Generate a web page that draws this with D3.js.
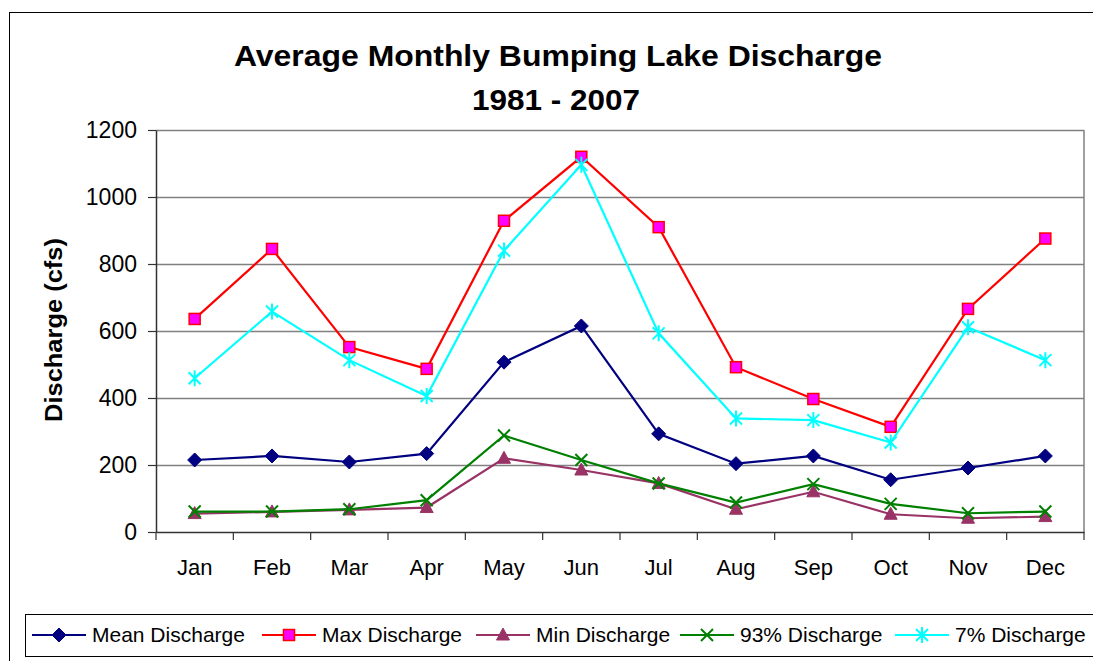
<!DOCTYPE html>
<html>
<head>
<meta charset="utf-8">
<script src="https://cdn.jsdelivr.net/npm/d3@7"></script>
<style>
  body { margin: 0; background: #fff; }
  text { font-family: "Liberation Sans", Arial, sans-serif; }
</style>
</head>
<body>
<div id="chart"></div>
<script>
var months = ["Jan", "Feb", "Mar", "Apr", "May", "Jun", "Jul", "Aug", "Sep", "Oct", "Nov", "Dec"];
var meanDischarge = [215, 227, 209, 234, 507, 615, 293, 204, 227, 156, 191, 227];
var maxDischarge = [636, 845, 552, 487, 929, 1120, 910, 492, 397, 314, 666, 876];
var minDischarge = [55, 60, 66, 73, 220, 185, 145, 68, 120, 53, 41, 46];
var p93Discharge = [61, 61, 68, 95, 288, 215, 145, 88, 143, 84, 56, 61];
var p7Discharge = [459, 658, 513, 406, 840, 1096, 593, 339, 334, 267, 611, 513];
var yTicks = [0, 200, 400, 600, 800, 1000, 1200];

var series = [
  { name: "Mean Discharge", values: meanDischarge, color: "#000080", marker: "diamond" },
  { name: "Max Discharge", values: maxDischarge, color: "#FF0000", marker: "square" },
  { name: "Min Discharge", values: minDischarge, color: "#993366", marker: "triangle" },
  { name: "93% Discharge", values: p93Discharge, color: "#008000", marker: "x" },
  { name: "7% Discharge", values: p7Discharge, color: "#00FFFF", marker: "star" }
];

var width = 1093, height = 661,
    margin = { top: 130, right: 9, bottom: 129, left: 156 };

var svg = d3.select("#chart").append("svg")
  .attr("width", width)
  .attr("height", height);

// outer chart border
svg.append("rect")
  .attr("x", 9.5).attr("y", 12.5)
  .attr("width", 1100).attr("height", 700)
  .attr("fill", "none").attr("stroke", "#000").attr("stroke-width", 1);

var plotW = width - margin.left - margin.right,
    plotH = height - margin.top - margin.bottom;

var g = svg.append("g").attr("transform", `translate(${margin.left},${margin.top})`);

var x = d3.scaleBand().domain(months).range([0, plotW]);
var y = d3.scaleLinear().domain([0, 1200]).range([plotH, 0]);

// gridlines
g.selectAll(".grid").data(yTicks.slice(1))
  .enter().append("line")
  .attr("x1", 0).attr("x2", plotW)
  .attr("y1", d => y(d) + 0.5).attr("y2", d => y(d) + 0.5)
  .attr("stroke", "#808080").attr("stroke-width", 1.5);

// plot area right border
g.append("line")
  .attr("x1", plotW).attr("x2", plotW).attr("y1", 0).attr("y2", plotH)
  .attr("stroke", "#808080").attr("stroke-width", 1.5);

// axes
var yAxis = d3.axisLeft(y).tickValues(yTicks).tickFormat(d3.format("d"))
  .tickSize(8).tickSizeOuter(0).tickPadding(11);
var yg = g.append("g").call(yAxis);
yg.select(".domain").attr("stroke", "#333").attr("stroke-width", 1.5);
yg.selectAll(".tick line").attr("stroke", "#333").attr("stroke-width", 1.2);
yg.selectAll(".tick text").attr("font-size", "23px").attr("fill", "#000")
  .style("font-family", "Liberation Sans, Arial, sans-serif");

var xg = g.append("g").attr("transform", `translate(0,${plotH})`)
  .call(d3.axisBottom(x).tickSize(0).tickPadding(27));
xg.select(".domain").attr("stroke", "#333").attr("stroke-width", 1.5);
xg.selectAll(".tick text").attr("font-size", "22px").attr("fill", "#000")
  .style("font-family", "Liberation Sans, Arial, sans-serif");
// category boundary ticks
xg.selectAll(".bound").data(months.concat(["end"]))
  .enter().append("line")
  .attr("x1", (d, i) => i * x.step()).attr("x2", (d, i) => i * x.step())
  .attr("y1", 0).attr("y2", 8)
  .attr("stroke", "#333").attr("stroke-width", 1.2);

var cx = d => x(d) + x.bandwidth() / 2;

function drawMarker(sel, type, color) {
  if (type === "diamond") {
    sel.append("path").attr("d", "M0,-7L7,0L0,7L-7,0Z").attr("fill", color).attr("stroke", color);
  } else if (type === "square") {
    sel.append("rect").attr("x", -5.5).attr("y", -5.5).attr("width", 11).attr("height", 11)
      .attr("fill", "#FF00FF").attr("stroke", "#FF0000").attr("stroke-width", 1.5);
  } else if (type === "triangle") {
    sel.append("path").attr("d", "M0,-7L6.5,5L-6.5,5Z").attr("fill", color).attr("stroke", color);
  } else if (type === "x") {
    sel.append("path").attr("d", "M-6,-6L6,6M-6,6L6,-6").attr("stroke", color).attr("stroke-width", 2).attr("fill", "none");
  } else if (type === "star") {
    sel.append("path").attr("d", "M-6,-6L6,6M-6,6L6,-6M0,-8L0,8").attr("stroke", color).attr("stroke-width", 2).attr("fill", "none");
  }
}

var line = d3.line().x((d, i) => cx(months[i])).y(d => y(d));

series.forEach(function (s) {
  g.append("path")
    .datum(s.values)
    .attr("fill", "none")
    .attr("stroke", s.color)
    .attr("stroke-width", 2.2)
    .attr("d", line);
  var pts = g.selectAll(null).data(s.values).enter().append("g")
    .attr("transform", (d, i) => `translate(${cx(months[i])},${y(d)})`);
  drawMarker(pts, s.marker, s.color);
});

// title
svg.append("text").attr("x", 558).attr("y", 66).attr("text-anchor", "middle")
  .attr("font-size", "30px").attr("font-weight", "bold")
  .attr("textLength", 648).attr("lengthAdjust", "spacingAndGlyphs")
  .text("Average Monthly Bumping Lake Discharge");
svg.append("text").attr("x", 556).attr("y", 110).attr("text-anchor", "middle")
  .attr("font-size", "30px").attr("font-weight", "bold")
  .attr("textLength", 168).attr("lengthAdjust", "spacingAndGlyphs")
  .text("1981 - 2007");

// y label
svg.append("text").attr("transform", "translate(62,330) rotate(-90)").attr("text-anchor", "middle")
  .attr("font-size", "24px").attr("font-weight", "bold")
  .attr("textLength", 184).attr("lengthAdjust", "spacingAndGlyphs")
  .text("Discharge (cfs)");

// legend
svg.append("rect").attr("x", 25.5).attr("y", 614.5).attr("width", 1100).attr("height", 42)
  .attr("fill", "#fff").attr("stroke", "#000").attr("stroke-width", 1);
var legendX = [32, 262, 476, 680, 895];
series.forEach(function (s, i) {
  var lg = svg.append("g").attr("transform", `translate(${legendX[i]},635)`);
  lg.append("line").attr("x1", 0).attr("x2", 54).attr("y1", 0).attr("y2", 0)
    .attr("stroke", s.color).attr("stroke-width", 2.2);
  drawMarker(lg.append("g").attr("transform", "translate(27,0)"), s.marker, s.color);
  lg.append("text").attr("x", 60).attr("y", 7).attr("font-size", "21px").text(s.name);
});
</script>
</body>
</html>
